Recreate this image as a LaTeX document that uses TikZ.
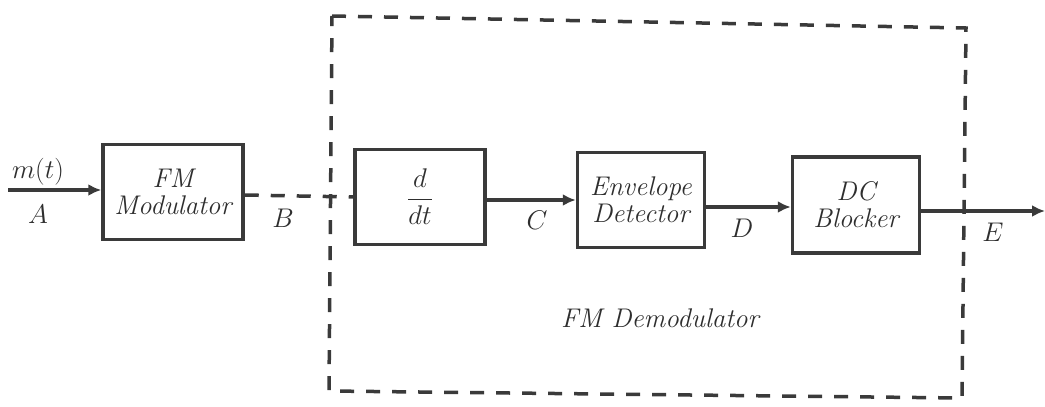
\documentclass[tikz,border=0pt]{standalone}
\usepackage{fix-cm}
\usetikzlibrary{arrows.meta}
\definecolor{ink}{HTML}{3A3A3A}
\definecolor{txt}{HTML}{2E2E2E}
\begin{document}
\begin{tikzpicture}[x=1pt,y=-1pt,
  blk/.style={draw=ink,line width=3.5pt,minimum width=#1,inner sep=0pt,align=center,text=txt,
    font=\fontsize{27}{30}\selectfont\itshape},
  blk/.default=130pt,
  lbl/.style={text=txt,font=\fontsize{27}{30}\selectfont\itshape,inner sep=0pt},
  sig/.style={draw=ink,line width=3.5pt,-{Latex[length=13pt,width=12pt]}},
  dsh/.style={draw=ink,line width=3.5pt,dash pattern=on 14pt off 12pt}]
\useasboundingbox (0,0) rectangle (1045,407);
\node[blk=140pt,minimum height=95pt] (mod) at (173,192) {FM\\[-3pt]Modulator};
\node[blk=130pt,minimum height=95pt] (ddt) at (420,197) {$\displaystyle\frac{d}{dt}$};
\node[blk=127pt,minimum height=95pt] (env) at (641,200) {Envelope\\[-3pt]Detector};
\node[blk=127pt,minimum height=96pt] (dcb) at (856,205) {DC\\[-3pt]Blocker};
\coordinate (in) at (8,190);
\coordinate (out) at (1045,211);
\draw[sig] (in) -- (in -| mod.west);
\draw[dsh] ([yshift=-3pt]mod.east) -- (ddt.west);
\draw[sig] ([yshift=-3pt]ddt.east) -- ([yshift=-3pt]ddt.east -| env.west);
\draw[sig] ([yshift=-7pt]env.east) -- ([yshift=-7pt]env.east -| dcb.west);
\draw[sig] (out -| dcb.east) -- (out);
\coordinate (b1) at (332,16);
\coordinate (b2) at (966,28);
\coordinate (b3) at (962,398);
\coordinate (b4) at (329,391);
\draw[dsh,line join=miter] (b1) -- (b2) -- (b3) -- (b4) -- cycle;
\node[lbl] (lm) at (38,172) {$m(t)$};
\node[lbl] (la) at (38,214) {$A$};
\node[lbl] (lb) at (283,218) {$B$};
\node[lbl] (lc) at (537,220) {$C$};
\node[lbl] (ld) at (742,228) {$D$};
\node[lbl] (le) at (993,232) {$E$};
\node[lbl] (ldem) at (660,318) {FM Demodulator};
\end{tikzpicture}
\end{document}
